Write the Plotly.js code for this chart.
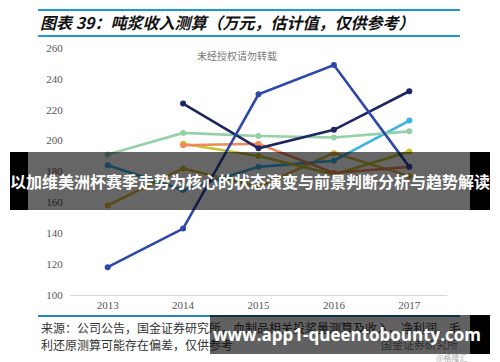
<!DOCTYPE html>
<html><head><meta charset="utf-8">
<script src="https://cdn.plot.ly/plotly-3.0.1.min.js"></script>
<style>
html,body{margin:0;padding:0;background:#fff;}
#wrap{position:relative;width:500px;height:362px;overflow:hidden;}
#chart{position:absolute;left:0;top:0;width:500px;height:362px;}
.ban{position:absolute;color:#fff;font-family:"Noto Sans CJK SC","Noto Sans",sans-serif;font-weight:bold;white-space:nowrap;}
</style></head>
<body>
<div id="wrap">
<div id="chart"></div>
<div class="ban" id="midban" style="left:10px;top:152px;width:480px;height:58px;line-height:58px;font-size:16px;text-align:center;background:linear-gradient(to right,#000 0px,#000 18px,rgba(0,0,0,0.6) 18px,rgba(0,0,0,0.6) 460px,#000 460px,#000 480px);">以加维美洲杯赛季走势为核心的状态演变与前景判断分析与趋势解读</div>
<div class="ban" id="botban" style="left:210px;top:315px;width:280px;height:39px;line-height:39px;font-size:17px;padding-left:0;font-family:'Open Sans','Noto Sans',sans-serif;background:linear-gradient(to right,rgba(0,0,0,0.62) 0px,rgba(0,0,0,0.62) 260px,#000 260px,#000 280px);"><span style="padding-left:3px">www.app1-queentobounty.com</span></div>
</div>
<script>
// ---- data ----
const years = ['2013','2014','2015','2016','2017'];
const yTicks = [100,120,140,160,180,200,220,240,260];
const seriesBlue   = [118, 143, 230, 249, 183];
const seriesNavy   = [null, 224, 195, 207, 232];
const seriesGreen  = [191, 205, 203, 202, 206];
const seriesCyan   = [184, 168, 183, 187, 213];
const seriesOrange = [null, 197, 198, 179, 183];
const seriesYellow = [null, 198, 190, 178, 193];
const seriesGold   = [158, 182, 170, 192, 177];
const titleText = '图表 39：吨浆收入测算（万元，估计值，仅供参考）';
const sourceLine1 = '来源：公司公告，国金证券研究所，血制品相关投浆量测算及收入、净利润、毛';
const sourceLine2 = '利还原测算可能存在偏差，仅供参考';
const watermark = '未经授权请勿转载';

// ---- layout helpers (pixel -> paper) ----
const L=70, R=447, T=48, B=295;
const X = p => (p-L)/(R-L);
const Y = p => (B-p)/(B-T);

function tr(y, color){
  return {x: years, y: y, type:'scatter', mode:'lines+markers',
    line:{color:color, width:2.6}, marker:{color:color, size:6},
    connectgaps:false, showlegend:false, hoverinfo:'skip'};
}
const data = [
  tr(seriesGold,   '#dab640'),
  tr(seriesCyan,   '#3bb2e4'),
  tr(seriesGreen,  '#95d1a6'),
  tr(seriesYellow, '#c6c42c'),
  tr(seriesOrange, '#f2875a'),
  tr(seriesNavy,   '#1d2660'),
  tr(seriesBlue,   '#2d48a8')
];

const tickFont = {family:'"Liberation Serif","DejaVu Serif",serif', size:11, color:'#555'};
const layout = {
  width:500, height:362,
  margin:{l:L, r:500-R, t:T, b:362-B},
  paper_bgcolor:'#fff', plot_bgcolor:'#fff',
  title:{text:titleText, xref:'container', yref:'container', x:40/500, y:1-23/362,
    xanchor:'left', yanchor:'middle',
    font:{family:'"Noto Sans CJK SC",sans-serif', size:16, color:'#111', weight:'bold', style:'italic'}},
  xaxis:{type:'category', range:[-0.5,4.5], showgrid:false, zeroline:false,
    showline:true, linecolor:'#d9d9d9', linewidth:1, ticks:'', tickfont:tickFont,
    fixedrange:true},
  yaxis:{range:[100,260], tickvals:yTicks, showgrid:false, zeroline:false, showline:false,
    ticks:'outside', ticklen:4, tickcolor:'rgba(0,0,0,0)', tickfont:tickFont, fixedrange:true},
  shapes:[
    {type:'line', xref:'paper', yref:'paper', x0:X(38), x1:X(460), y0:Y(10), y1:Y(10), line:{color:'#1e96d2', width:2}},
    {type:'line', xref:'paper', yref:'paper', x0:X(38), x1:X(460), y0:Y(36), y1:Y(36), line:{color:'#1e96d2', width:2}},
    {type:'line', xref:'paper', yref:'paper', x0:X(38), x1:X(460), y0:Y(316), y1:Y(316), line:{color:'#1e86b8', width:2}}
  ],
  annotations:[
    {text:watermark, xref:'paper', yref:'paper', x:X(237), y:Y(55), xanchor:'center', yanchor:'middle', showarrow:false,
      font:{family:'"Noto Sans CJK SC",sans-serif', size:10, color:'#777'}},
    {text:sourceLine1, xref:'paper', yref:'paper', x:X(39), y:Y(327), xanchor:'left', yanchor:'middle', showarrow:false,
      font:{family:'"Noto Sans CJK SC",sans-serif', size:12, color:'#333'}},
    {text:sourceLine2, xref:'paper', yref:'paper', x:X(39), y:Y(344), xanchor:'left', yanchor:'middle', showarrow:false,
      font:{family:'"Noto Sans CJK SC",sans-serif', size:12, color:'#333'}},
    {text:'国金证券研究所', xref:'paper', yref:'paper', x:X(460), y:Y(344), xanchor:'right', yanchor:'middle', showarrow:false,
      font:{family:'"Noto Sans CJK SC",sans-serif', size:11, color:'#777'}},
    {text:'@格隆汇', xref:'paper', yref:'paper', x:X(470), y:Y(357), xanchor:'right', yanchor:'middle', showarrow:false,
      font:{family:'"Noto Sans CJK SC",sans-serif', size:8, color:'#aaa'}}
  ]
};
Plotly.newPlot('chart', data, layout, {displayModeBar:false, staticPlot:true});
</script>
</body></html>
